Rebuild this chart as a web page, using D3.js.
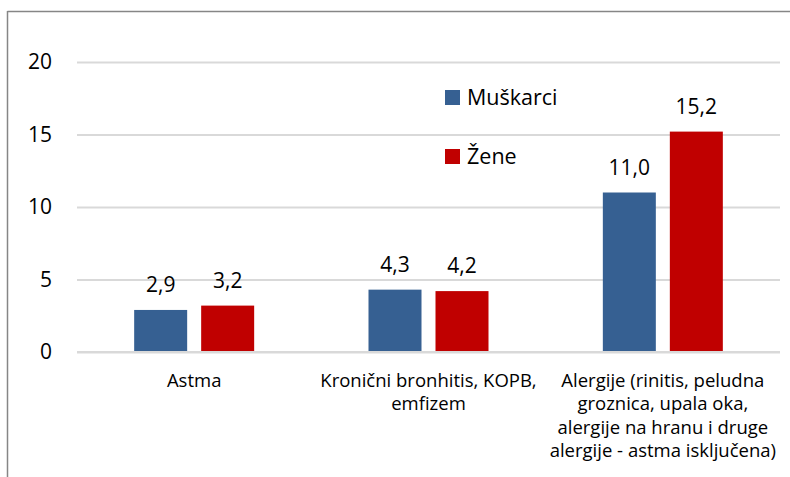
<!DOCTYPE html>
<html>
<head>
<meta charset="utf-8">
<script src="https://cdn.jsdelivr.net/npm/d3@7"></script>
<style>
body { margin: 0; background: #fff; }
svg text { font-family: "Open Sans", sans-serif; fill: #000; }
</style>
</head>
<body>
<svg width="790" height="477"></svg>
<script>
// data
var categories = ["Astma", "Kronični bronhitis, KOPB, emfizem",
  "Alergije (rinitis, peludna groznica, upala oka, alergije na hranu i druge alergije - astma isključena)"];
var categoryLines = [
  ["Astma"],
  ["Kronični bronhitis, KOPB,", "emfizem"],
  ["Alergije (rinitis, peludna", "groznica, upala oka,", "alergije na hranu i druge", "alergije - astma isključena)"]
];
var series = ["Muškarci", "Žene"];
var muskarci = [2.9, 4.3, 11.0];
var zene = [3.2, 4.2, 15.2];
var yTicks = [0, 5, 10, 15, 20];
var colors = ["#366092", "#C00000"];

var svg = d3.select("svg");

// frame
svg.append("line").attr("x1", 7.5).attr("x2", 790).attr("y1", 11.5).attr("y2", 11.5)
  .attr("stroke", "#868686").attr("stroke-width", 1.5);
svg.append("line").attr("x1", 7.5).attr("x2", 7.5).attr("y1", 11).attr("y2", 477)
  .attr("stroke", "#868686").attr("stroke-width", 1.5);

var x0 = d3.scaleBand().domain(categories).range([77, 780]).padding(0);
var x1 = d3.scaleBand().domain(series)
  .range([(x0.bandwidth() - 120) / 2, (x0.bandwidth() + 120) / 2])
  .paddingInner(14 / 67);
var y = d3.scaleLinear().domain([0, 20]).range([352, 62]);

// gridlines + y labels
var yAxis = d3.axisLeft(y).tickValues(yTicks).tickSize(-(780 - 77)).tickPadding(25)
  .tickFormat(d3.format("d"));
var yg = svg.append("g").attr("transform", "translate(77,0)").call(yAxis);
yg.select(".domain").remove();
yg.selectAll(".tick line").attr("stroke", "#d9d9d9").attr("stroke-width", 2);
yg.selectAll(".tick text").style("font-size", "21px").style("font-family", "Open Sans");

var rows = categories.map(function(c, i) {
  return {cat: c, vals: [
    {s: series[0], v: muskarci[i]},
    {s: series[1], v: zene[i]}
  ]};
});

var groups = svg.selectAll(".grp").data(rows).enter().append("g")
  .attr("class", "grp")
  .attr("transform", function(d) { return "translate(" + x0(d.cat) + ",0)"; });

groups.selectAll("rect").data(function(d) { return d.vals; }).enter().append("rect")
  .attr("x", function(d) { return x1(d.s); })
  .attr("width", x1.bandwidth())
  .attr("y", function(d) { return y(d.v); })
  .attr("height", function(d) { return y(0) - y(d.v); })
  .attr("fill", function(d, i) { return colors[i]; });

groups.selectAll(".val").data(function(d) { return d.vals; }).enter().append("text")
  .attr("class", "val")
  .attr("x", function(d) { return x1(d.s) + x1.bandwidth() / 2; })
  .attr("y", function(d) { return y(d.v) - 18; })
  .attr("text-anchor", "middle")
  .style("font-size", "21px")
  .text(function(d) { return d3.format(".1f")(d.v).replace(".", ","); });

// zero line on top
svg.append("line").attr("x1", 77).attr("x2", 780).attr("y1", y(0)).attr("y2", y(0))
  .attr("stroke", "#d9d9d9").attr("stroke-width", 2);

// category labels
categories.forEach(function(c, i) {
  var t = svg.append("text")
    .attr("x", x0(c) + x0.bandwidth() / 2)
    .attr("y", 387)
    .attr("text-anchor", "middle")
    .style("font-size", "18.5px");
  categoryLines[i].forEach(function(line, j) {
    t.append("tspan").attr("x", x0(c) + x0.bandwidth() / 2)
      .attr("dy", j === 0 ? 0 : 23.3).text(line);
  });
});

// legend
var legend = svg.append("g");
series.forEach(function(s, i) {
  var ly = 97.5 + i * 59;
  legend.append("rect").attr("x", 445).attr("y", ly - 7.5).attr("width", 15).attr("height", 15)
    .attr("fill", colors[i]);
  legend.append("text").attr("x", 467).attr("y", ly + 7.5).style("font-size", "21.5px").text(s);
});
</script>
</body>
</html>
